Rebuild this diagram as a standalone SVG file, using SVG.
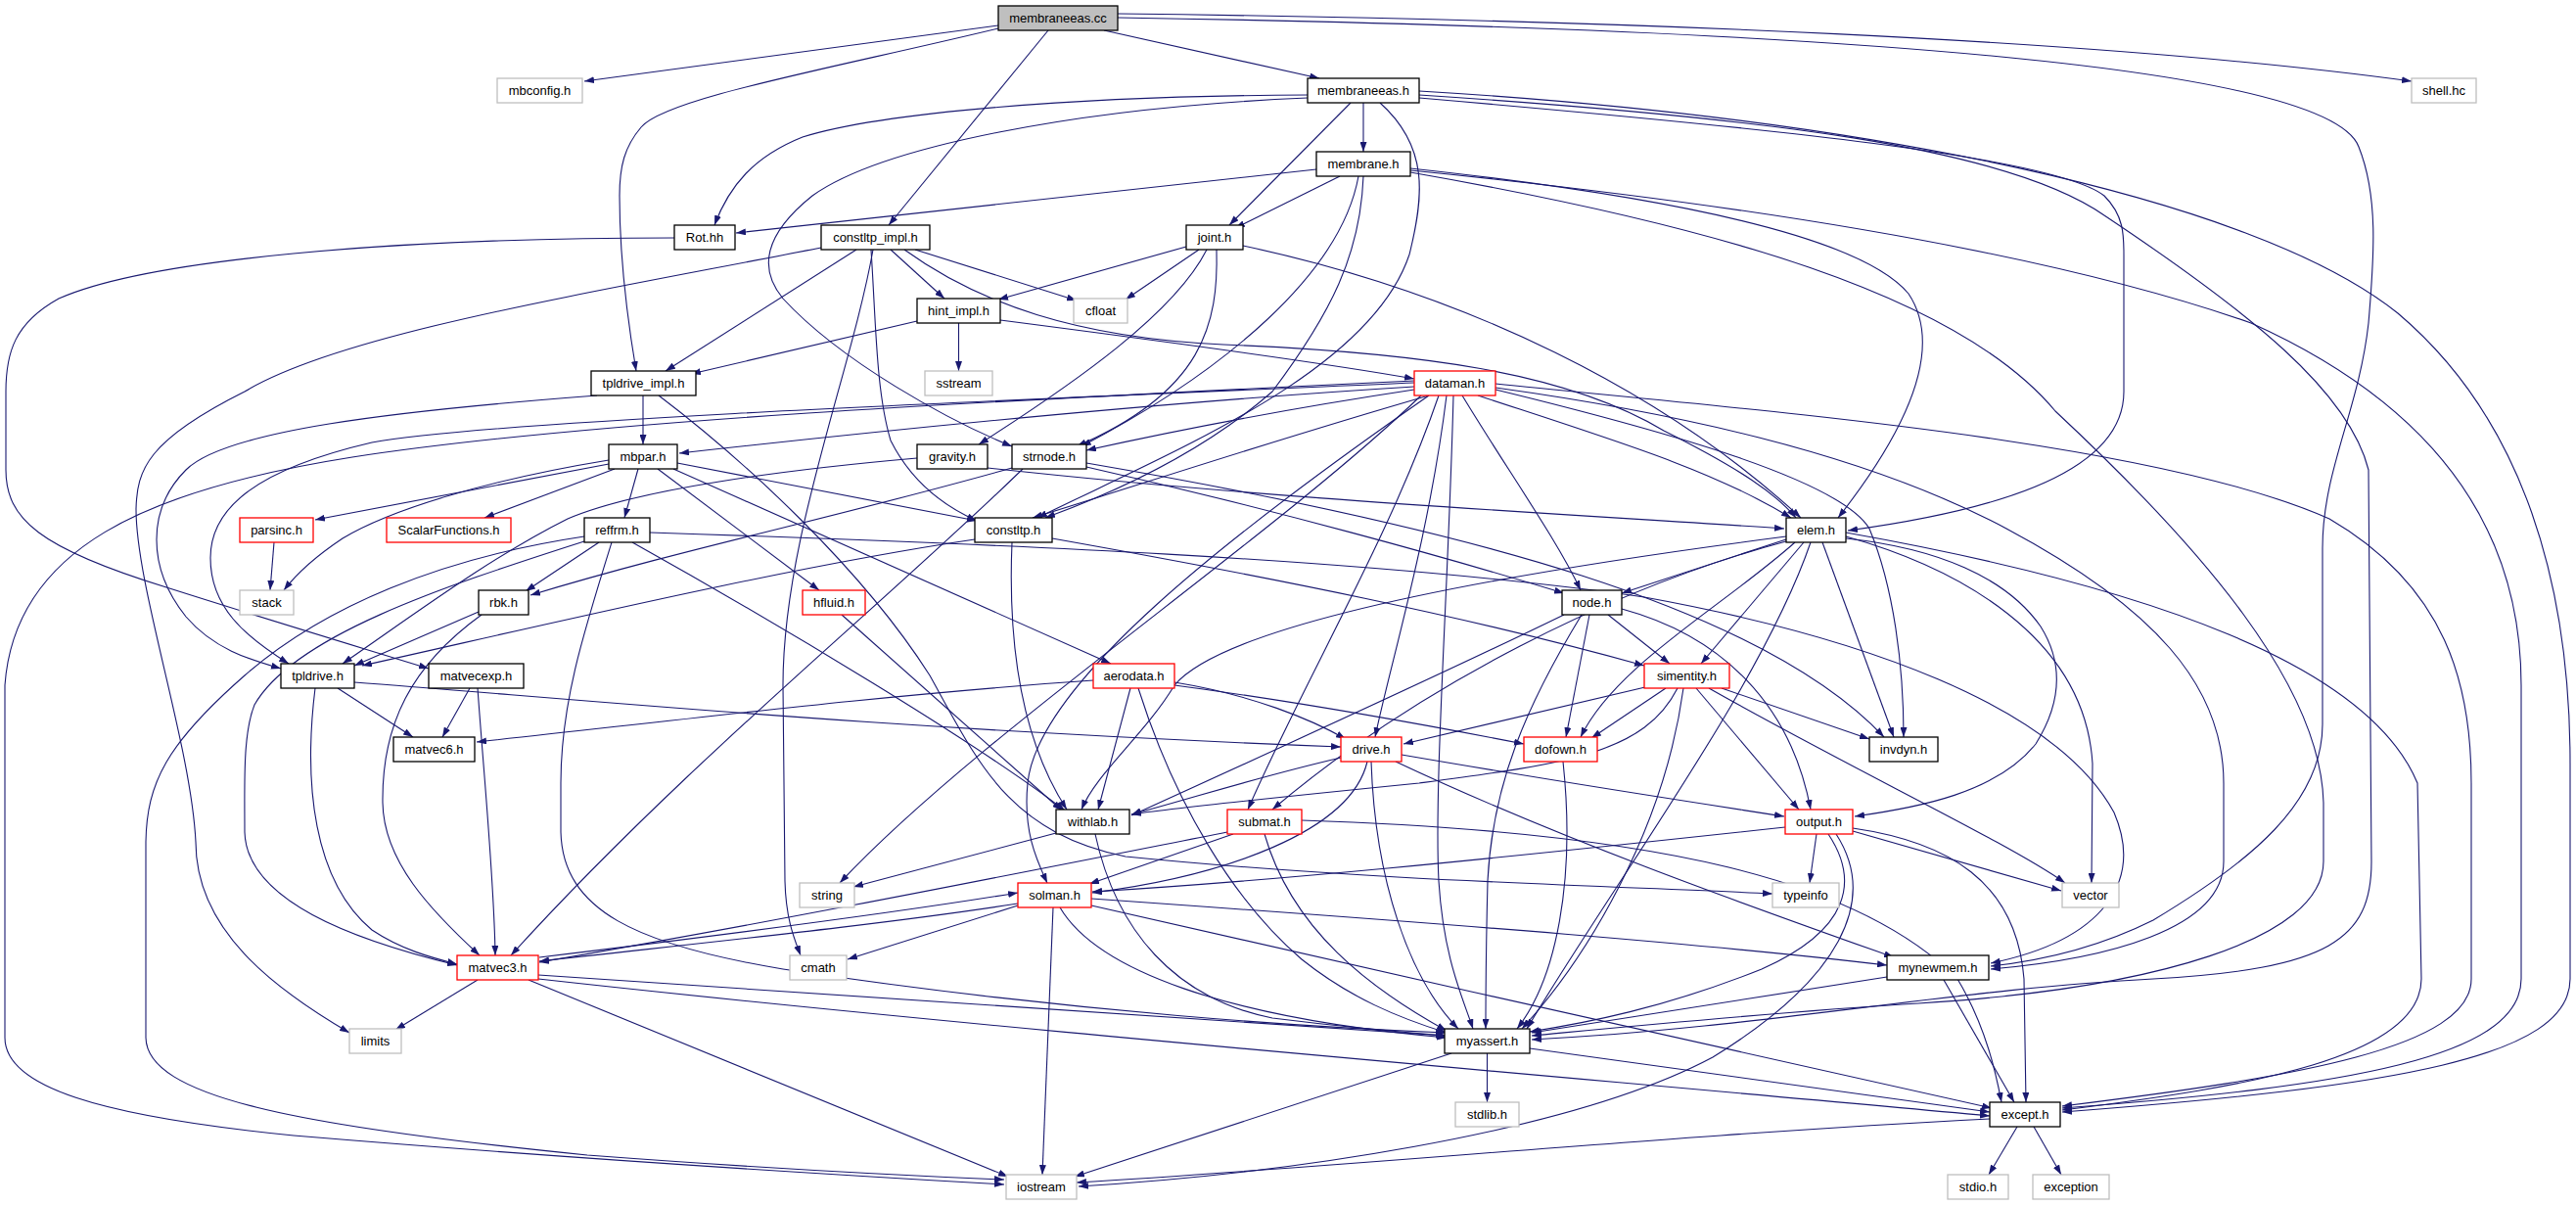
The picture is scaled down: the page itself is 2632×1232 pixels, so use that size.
<svg xmlns="http://www.w3.org/2000/svg" width="2632" height="1232" viewBox="0 0 2632 1232">
<style>
.e{fill:none;stroke:#191970;stroke-width:1.1;marker-end:url(#a)}
.n rect{fill:#fff;stroke:#000;stroke-width:1.3}
.r rect{stroke:#f00}
.g rect{stroke:#bfbfbf}
.n text{font-family:"Liberation Sans",Arial,sans-serif;font-size:13px;text-anchor:middle;fill:#000}
</style>
<defs>
<marker id="a" viewBox="0 0 10 7" refX="10" refY="3.5" markerWidth="10" markerHeight="7" markerUnits="userSpaceOnUse" orient="auto"><path d="M0,0 L10,3.5 L0,7 z" fill="#191970"/></marker>
</defs>
<rect width="2632" height="1232" fill="#fff"/>
<g id="edges">
<path class="e" d="M1020,26 L597,83"/>
<path class="e" d="M1128,31 L1348,80"/>
<path class="e" d="M1142,14 C1650,20 2150,40 2464,83"/>
<path class="e" d="M1071,31 L908,230"/>
<path class="e" d="M1020,29 C850,70 680,100 655,130 C638,150 633,170 633,200 C633,260 640,320 650,379"/>
<path class="e" d="M1142,18 C1900,30 2380,70 2410,150 C2430,200 2426,260 2420,330 C2410,420 2373,480 2373,560 L2373,740 C2373,820 2300,880 2200,940 C2140,970 2080,982 2034,987"/>
<path class="e" d="M1393,105 L1393,155"/>
<path class="e" d="M1380,105 L1256,230"/>
<path class="e" d="M1336,97 C1100,98 900,115 820,140 C770,160 745,190 730,230"/>
<path class="e" d="M1336,100 C1100,110 900,150 830,200 C780,240 775,275 800,305 C860,370 970,430 1034,456"/>
<path class="e" d="M1410,105 C1460,150 1455,200 1440,260 C1400,380 1200,460 1060,529"/>
<path class="e" d="M1450,100 C1800,130 2100,160 2150,200 C2170,220 2170,240 2170,260 L2170,400 C2170,480 2050,520 1888,542"/>
<path class="e" d="M1450,97 C1800,120 2050,150 2150,220 C2300,320 2400,400 2420,480 L2423,880 C2423,960 2380,990 2200,1000 C2000,1010 1800,1050 1565,1062"/>
<path class="e" d="M1450,93 C1900,120 2300,200 2450,320 C2580,430 2626,600 2626,780 L2626,1000 C2626,1080 2450,1110 2107,1136"/>
<path class="e" d="M1345,173 L752,238"/>
<path class="e" d="M1369,180 L1262,233"/>
<path class="e" d="M1388,180 C1370,280 1250,380 1105,456"/>
<path class="e" d="M1393,180 C1390,260 1360,320 1300,400 C1220,470 1120,510 1068,529"/>
<path class="e" d="M1441,172 C1700,200 1900,240 1950,300 C1990,360 1940,450 1878,529"/>
<path class="e" d="M1441,174 C1800,210 2100,260 2300,330 C2500,420 2576,550 2576,700 L2576,1000 C2576,1080 2400,1110 2107,1132"/>
<path class="e" d="M1441,176 C1750,230 2000,300 2100,420 C2250,560 2371,700 2374,820 L2374,880 C2374,960 2200,1010 1960,1025 C1800,1035 1650,1050 1565,1058"/>
<path class="e" d="M910,255 L965,305"/>
<path class="e" d="M935,255 L1100,307"/>
<path class="e" d="M875,255 L680,379"/>
<path class="e" d="M839,253 C600,300 350,340 250,400 C150,450 140,480 139,520 C139,600 195,760 200,860 C200,950 280,1010 357,1055"/>
<path class="e" d="M892,255 C870,380 800,550 800,700 L802,900 C803,940 812,960 818,976"/>
<path class="e" d="M890,255 C895,330 895,400 910,450 C930,490 960,515 998,532"/>
<path class="e" d="M924,255 C1000,310 1100,345 1250,352 C1450,360 1600,380 1700,440 C1780,480 1815,505 1835,529"/>
<path class="e" d="M1212,252 L1020,306"/>
<path class="e" d="M1225,255 L1150,306"/>
<path class="e" d="M1233,255 C1200,320 1100,390 1000,454"/>
<path class="e" d="M1243,255 C1245,330 1230,400 1100,456"/>
<path class="e" d="M1270,251 C1500,300 1700,400 1840,529"/>
<path class="e" d="M979.5,330 L979.5,379"/>
<path class="e" d="M937,328 L706,382"/>
<path class="e" d="M1022,327 C1200,350 1350,370 1445,387"/>
<path class="e" d="M657,404 L657,454"/>
<path class="e" d="M610,404 C400,420 230,440 190,480 C150,520 150,580 190,630 C220,665 260,675 287,683"/>
<path class="e" d="M673,404 C760,470 880,580 950,690 C1000,780 1030,850 1150,875 C1400,900 1650,905 1811,913"/>
<path class="e" d="M1445,395 C1200,410 900,440 694,463"/>
<path class="e" d="M1445,391 C1000,410 500,430 380,452 C260,480 215,520 215,570 C215,620 250,650 295,678"/>
<path class="e" d="M1445,398 C1300,420 1200,440 1110,460"/>
<path class="e" d="M1460,404 C1300,450 1150,500 1055,529"/>
<path class="e" d="M1445,389 C1000,410 600,430 360,467 C150,500 15,560 5,700 L5,1060 C5,1110 100,1140 300,1160 C600,1185 850,1200 1026,1210"/>
<path class="e" d="M1452,404 C1300,550 1000,750 858,902"/>
<path class="e" d="M1460,404 C1250,550 1060,700 1050,800 C1045,850 1060,880 1070,902"/>
<path class="e" d="M1470,404 C1420,550 1330,700 1275,827"/>
<path class="e" d="M1478,404 C1460,550 1420,680 1405,753"/>
<path class="e" d="M1485,404 C1480,600 1465,800 1470,900 C1475,980 1495,1020 1505,1051"/>
<path class="e" d="M1494,404 C1540,480 1590,550 1615,603"/>
<path class="e" d="M1510,404 C1650,450 1750,480 1830,529"/>
<path class="e" d="M1528,398 C1700,440 1880,490 1910,540 C1935,600 1945,680 1945,753"/>
<path class="e" d="M1528,396 C1700,420 1900,460 2050,540 C2200,620 2272,700 2272,800 L2272,880 C2272,950 2150,980 2034,990"/>
<path class="e" d="M1528,392 C1800,420 2200,450 2380,530 C2500,600 2525,700 2525,800 L2525,1000 C2525,1070 2350,1100 2107,1130"/>
<path class="e" d="M622,474 L322,531"/>
<path class="e" d="M628,479 L495,529"/>
<path class="e" d="M652,479 L638,529"/>
<path class="e" d="M622,470 C500,490 400,520 350,550 C320,570 300,590 290,603"/>
<path class="e" d="M672,479 L837,603"/>
<path class="e" d="M692,473 L998,532"/>
<path class="e" d="M688,479 L1135,678"/>
<path class="e" d="M937,468 C800,480 650,500 580,530 C500,570 420,630 350,678"/>
<path class="e" d="M1009,478 C1300,510 1600,525 1823,540"/>
<path class="e" d="M1034,478 C850,530 700,560 542,608"/>
<path class="e" d="M1045,479 C900,620 700,780 522,976"/>
<path class="e" d="M1110,477 C1300,520 1480,570 1598,606"/>
<path class="e" d="M1110,473 C1500,540 1800,620 1925,753"/>
<path class="e" d="M612,554 L537,604"/>
<path class="e" d="M597,553 C450,600 300,650 260,720 C248,750 250,800 250,850 C252,920 360,960 467,986"/>
<path class="e" d="M597,548 C450,570 330,620 250,690 C170,760 150,800 149,860 L149,1060 C150,1120 300,1150 600,1180 C800,1195 950,1202 1026,1205"/>
<path class="e" d="M625,554 C595,650 573,720 573,800 L573,850 C575,930 650,965 800,990 C1100,1035 1350,1050 1477,1055"/>
<path class="e" d="M646,554 C800,640 1000,760 1088,828"/>
<path class="e" d="M664,544 C1000,555 1400,570 1680,610 C1900,650 2100,720 2160,830 C2190,900 2150,960 2034,984"/>
<path class="e" d="M489,625 L362,680"/>
<path class="e" d="M492,628 C420,680 390,740 391,820 C392,880 440,930 490,976"/>
<path class="e" d="M345,703 L422,753"/>
<path class="e" d="M322,703 C310,800 320,900 380,950 C410,970 440,978 467,985"/>
<path class="e" d="M362,697 C600,715 900,745 1370,763"/>
<path class="e" d="M480,703 L452,753"/>
<path class="e" d="M488,703 C495,800 505,900 506,976"/>
<path class="e" d="M689,243 C400,243 150,265 60,305 C15,330 6,360 6,400 L6,480 C6,530 40,560 170,600 C280,635 380,665 438,683"/>
<path class="e" d="M860,628 L1085,828"/>
<path class="e" d="M1117,695 C900,710 700,735 487,758"/>
<path class="e" d="M1155,703 L1122,827"/>
<path class="e" d="M1163,703 C1200,820 1260,920 1330,980 C1380,1020 1430,1040 1478,1055"/>
<path class="e" d="M1200,697 C1280,710 1340,735 1375,755"/>
<path class="e" d="M1200,700 C1350,720 1480,745 1557,760"/>
<path class="e" d="M996,551 C800,580 550,640 370,680"/>
<path class="e" d="M1034,554 C1030,650 1040,750 1090,827"/>
<path class="e" d="M1075,550 C1300,590 1500,630 1680,680"/>
<path class="e" d="M1825,551 L1657,606"/>
<path class="e" d="M1843,554 L1738,678"/>
<path class="e" d="M1834,554 C1760,620 1650,680 1615,753"/>
<path class="e" d="M1862,554 L1935,753"/>
<path class="e" d="M1886,550 C1980,560 2050,590 2085,640 C2110,680 2105,720 2080,760 C2040,810 1960,825 1895,834"/>
<path class="e" d="M1825,548 C1500,590 1250,640 1200,700 C1170,750 1120,790 1105,827"/>
<path class="e" d="M1825,553 C1650,600 1450,700 1300,827"/>
<path class="e" d="M1850,554 C1800,700 1650,900 1560,1051"/>
<path class="e" d="M1886,548 C2000,580 2130,650 2138,780 L2137,902"/>
<path class="e" d="M1886,544 C2200,600 2420,680 2470,800 L2474,1000 C2474,1080 2300,1110 2107,1134"/>
<path class="e" d="M1643,628 L1706,678"/>
<path class="e" d="M1624,628 L1600,753"/>
<path class="e" d="M1598,628 C1450,700 1250,790 1156,833"/>
<path class="e" d="M1616,628 C1560,720 1525,800 1520,900 C1518,980 1518,1020 1518,1051"/>
<path class="e" d="M1657,622 C1760,650 1830,720 1850,827"/>
<path class="e" d="M1681,702 L1434,760"/>
<path class="e" d="M1702,703 L1626,754"/>
<path class="e" d="M1714,703 C1680,770 1600,780 1450,800 C1300,815 1200,825 1156,832"/>
<path class="e" d="M1720,703 C1700,850 1620,980 1555,1051"/>
<path class="e" d="M1733,703 L1838,827"/>
<path class="e" d="M1759,703 L1910,755"/>
<path class="e" d="M1746,703 C1900,790 2050,860 2110,902"/>
<path class="e" d="M1370,774 C1280,795 1220,815 1156,832"/>
<path class="e" d="M1397,778 C1380,850 1250,895 1116,912"/>
<path class="e" d="M1401,778 C1405,900 1440,1000 1490,1051"/>
<path class="e" d="M1432,771 C1600,800 1700,815 1823,834"/>
<path class="e" d="M1426,778 C1600,860 1800,930 1935,978"/>
<path class="e" d="M1597,778 C1610,900 1590,1000 1550,1051"/>
<path class="e" d="M1856,852 L1849,902"/>
<path class="e" d="M1824,845 C1500,880 1300,900 1116,911"/>
<path class="e" d="M1868,852 C1900,900 1890,950 1800,990 C1700,1030 1620,1045 1563,1054"/>
<path class="e" d="M1876,852 C1920,920 1880,1000 1750,1080 C1600,1160 1300,1200 1102,1212"/>
<path class="e" d="M1893,849 L2106,910"/>
<path class="e" d="M1893,846 C1990,860 2060,900 2068,1000 L2070,1126"/>
<path class="e" d="M1260,852 L1113,903"/>
<path class="e" d="M1254,850 C1000,900 800,940 551,983"/>
<path class="e" d="M1292,852 C1320,950 1400,1010 1478,1053"/>
<path class="e" d="M1330,838 C1700,850 1900,900 2000,1000 C2030,1050 2040,1100 2045,1126"/>
<path class="e" d="M1040,923 C900,945 700,965 551,982"/>
<path class="e" d="M551,978 C700,960 900,935 1040,912"/>
<path class="e" d="M1040,925 L866,980"/>
<path class="e" d="M1076,927 L1065,1200"/>
<path class="e" d="M1083,927 C1120,990 1250,1040 1478,1060"/>
<path class="e" d="M1115,918 C1500,945 1750,965 1928,986"/>
<path class="e" d="M1115,925 C1400,990 1800,1080 2035,1132"/>
<path class="e" d="M1079,851 L872,906"/>
<path class="e" d="M1119,852 C1140,950 1200,1020 1300,1040 C1380,1050 1440,1055 1478,1058"/>
<path class="e" d="M488,1001 L404,1052"/>
<path class="e" d="M550,996 C900,1020 1200,1040 1477,1058"/>
<path class="e" d="M550,1000 C1000,1050 1600,1100 2033,1140"/>
<path class="e" d="M540,1001 L1030,1202"/>
<path class="e" d="M1928,998 L1565,1055"/>
<path class="e" d="M1986,1001 L2058,1126"/>
<path class="e" d="M1519.5,1076 L1519.5,1126"/>
<path class="e" d="M1483,1076 L1098,1202"/>
<path class="e" d="M1563,1071 L2033,1136"/>
<path class="e" d="M2061,1151 L2032,1200"/>
<path class="e" d="M2078,1151 L2106,1200"/>
<path class="e" d="M2033,1143 C1700,1160 1400,1190 1100,1208"/>
<path class="e" d="M280,554 L276,603"/>
</g>
<g id="n_membraneeas_cc" class="n"><rect x="1020" y="6" width="122" height="25" style="fill:#bfbfbf"/><text x="1081" y="23">membraneeas.cc</text></g>
<g id="n_mbconfig_h" class="n g"><rect x="508" y="80" width="87" height="25"/><text x="551.5" y="97">mbconfig.h</text></g>
<g id="n_membraneeas_h" class="n"><rect x="1336" y="80" width="114" height="25"/><text x="1393" y="97">membraneeas.h</text></g>
<g id="n_shell_hc" class="n g"><rect x="2464" y="80" width="66" height="25"/><text x="2497" y="97">shell.hc</text></g>
<g id="n_membrane_h" class="n"><rect x="1345" y="155" width="96" height="25"/><text x="1393" y="172">membrane.h</text></g>
<g id="n_Rot_hh" class="n"><rect x="689" y="230" width="62" height="25"/><text x="720" y="247">Rot.hh</text></g>
<g id="n_constltp_impl_h" class="n"><rect x="839" y="230" width="111" height="25"/><text x="894.5" y="247">constltp_impl.h</text></g>
<g id="n_joint_h" class="n"><rect x="1212" y="230" width="58" height="25"/><text x="1241" y="247">joint.h</text></g>
<g id="n_hint_impl_h" class="n"><rect x="937" y="305" width="85" height="25"/><text x="979.5" y="322">hint_impl.h</text></g>
<g id="n_cfloat" class="n g"><rect x="1097" y="305" width="55" height="25"/><text x="1124.5" y="322">cfloat</text></g>
<g id="n_tpldrive_impl_h" class="n"><rect x="604" y="379" width="107" height="25"/><text x="657.5" y="396">tpldrive_impl.h</text></g>
<g id="n_sstream" class="n g"><rect x="945" y="379" width="69" height="25"/><text x="979.5" y="396">sstream</text></g>
<g id="n_dataman_h" class="n r"><rect x="1445" y="379" width="83" height="25"/><text x="1486.5" y="396">dataman.h</text></g>
<g id="n_mbpar_h" class="n"><rect x="622" y="454" width="70" height="25"/><text x="657" y="471">mbpar.h</text></g>
<g id="n_gravity_h" class="n"><rect x="937" y="454" width="72" height="25"/><text x="973" y="471">gravity.h</text></g>
<g id="n_strnode_h" class="n"><rect x="1034" y="454" width="76" height="25"/><text x="1072" y="471">strnode.h</text></g>
<g id="n_parsinc_h" class="n r"><rect x="245" y="529" width="75" height="25"/><text x="282.5" y="546">parsinc.h</text></g>
<g id="n_ScalarFunctions_h" class="n r"><rect x="395" y="529" width="127" height="25"/><text x="458.5" y="546">ScalarFunctions.h</text></g>
<g id="n_reffrm_h" class="n"><rect x="597" y="529" width="67" height="25"/><text x="630.5" y="546">reffrm.h</text></g>
<g id="n_constltp_h" class="n"><rect x="996" y="529" width="79" height="25"/><text x="1035.5" y="546">constltp.h</text></g>
<g id="n_elem_h" class="n"><rect x="1825" y="529" width="61" height="25"/><text x="1855.5" y="546">elem.h</text></g>
<g id="n_stack" class="n g"><rect x="245" y="603" width="55" height="25"/><text x="272.5" y="620">stack</text></g>
<g id="n_rbk_h" class="n"><rect x="489" y="603" width="51" height="25"/><text x="514.5" y="620">rbk.h</text></g>
<g id="n_hfluid_h" class="n r"><rect x="820" y="603" width="64" height="25"/><text x="852" y="620">hfluid.h</text></g>
<g id="n_node_h" class="n"><rect x="1596" y="603" width="61" height="25"/><text x="1626.5" y="620">node.h</text></g>
<g id="n_tpldrive_h" class="n"><rect x="287" y="678" width="75" height="25"/><text x="324.5" y="695">tpldrive.h</text></g>
<g id="n_matvecexp_h" class="n"><rect x="438" y="678" width="97" height="25"/><text x="486.5" y="695">matvecexp.h</text></g>
<g id="n_aerodata_h" class="n r"><rect x="1117" y="678" width="83" height="25"/><text x="1158.5" y="695">aerodata.h</text></g>
<g id="n_simentity_h" class="n r"><rect x="1680" y="678" width="87" height="25"/><text x="1723.5" y="695">simentity.h</text></g>
<g id="n_matvec6_h" class="n"><rect x="402" y="753" width="83" height="25"/><text x="443.5" y="770">matvec6.h</text></g>
<g id="n_drive_h" class="n r"><rect x="1370" y="753" width="62" height="25"/><text x="1401" y="770">drive.h</text></g>
<g id="n_dofown_h" class="n r"><rect x="1557" y="753" width="75" height="25"/><text x="1594.5" y="770">dofown.h</text></g>
<g id="n_invdyn_h" class="n"><rect x="1910" y="753" width="70" height="25"/><text x="1945" y="770">invdyn.h</text></g>
<g id="n_withlab_h" class="n"><rect x="1079" y="827" width="75" height="25"/><text x="1116.5" y="844">withlab.h</text></g>
<g id="n_submat_h" class="n r"><rect x="1254" y="827" width="76" height="25"/><text x="1292" y="844">submat.h</text></g>
<g id="n_output_h" class="n r"><rect x="1824" y="827" width="69" height="25"/><text x="1858.5" y="844">output.h</text></g>
<g id="n_string" class="n g"><rect x="817" y="902" width="56" height="25"/><text x="845" y="919">string</text></g>
<g id="n_solman_h" class="n r"><rect x="1040" y="902" width="75" height="25"/><text x="1077.5" y="919">solman.h</text></g>
<g id="n_typeinfo" class="n g"><rect x="1811" y="902" width="68" height="25"/><text x="1845" y="919">typeinfo</text></g>
<g id="n_vector" class="n g"><rect x="2107" y="902" width="58" height="25"/><text x="2136" y="919">vector</text></g>
<g id="n_matvec3_h" class="n r"><rect x="467" y="976" width="83" height="25"/><text x="508.5" y="993">matvec3.h</text></g>
<g id="n_cmath" class="n g"><rect x="807" y="976" width="58" height="25"/><text x="836" y="993">cmath</text></g>
<g id="n_mynewmem_h" class="n"><rect x="1928" y="976" width="104" height="25"/><text x="1980" y="993">mynewmem.h</text></g>
<g id="n_limits" class="n g"><rect x="357" y="1051" width="53" height="25"/><text x="383.5" y="1068">limits</text></g>
<g id="n_myassert_h" class="n"><rect x="1476" y="1051" width="87" height="25"/><text x="1519.5" y="1068">myassert.h</text></g>
<g id="n_stdlib_h" class="n g"><rect x="1487" y="1126" width="65" height="25"/><text x="1519.5" y="1143">stdlib.h</text></g>
<g id="n_except_h" class="n"><rect x="2033" y="1126" width="72" height="25"/><text x="2069" y="1143">except.h</text></g>
<g id="n_iostream" class="n g"><rect x="1028" y="1200" width="72" height="25"/><text x="1064" y="1217">iostream</text></g>
<g id="n_stdio_h" class="n g"><rect x="1990" y="1200" width="62" height="25"/><text x="2021" y="1217">stdio.h</text></g>
<g id="n_exception" class="n g"><rect x="2077" y="1200" width="78" height="25"/><text x="2116" y="1217">exception</text></g>
</svg>
